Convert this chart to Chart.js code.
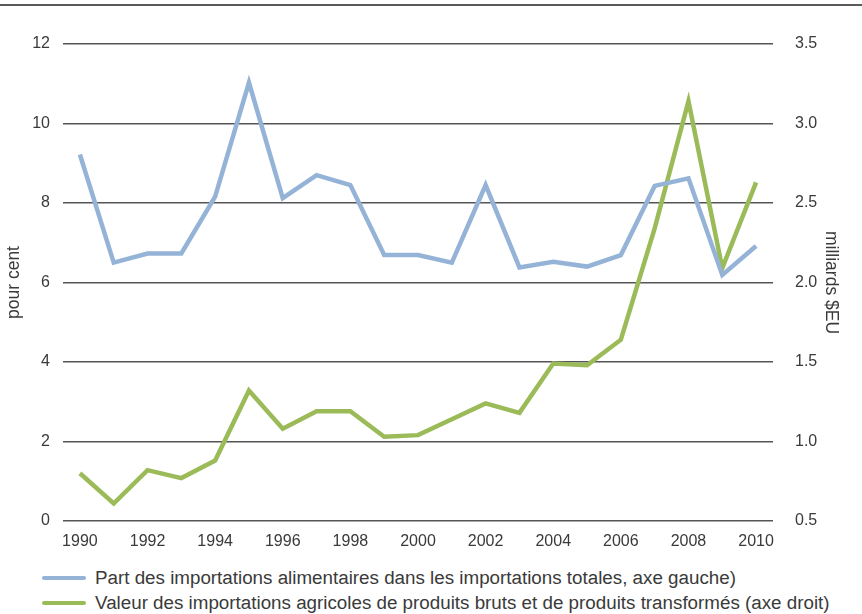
<!DOCTYPE html>
<html lang="fr">
<head>
<meta charset="UTF-8">
<title>Importations alimentaires</title>
<script src="https://cdn.jsdelivr.net/npm/chart.js"></script>
<style>
    body {
        margin: 0;
        padding: 0;
        background: #fff;
        font-family: "Liberation Sans", Arial, sans-serif;
        color: #3a3a3a;
    }
    .wrap {
        position: relative;
        width: 862px;
        height: 614px;
    }
    .topline {
        position: absolute;
        left: 0;
        top: 4px;
        width: 862px;
        height: 0;
        border-top: 2px solid #5a5a5a;
    }
    .chart-box {
        position: absolute;
        left: 0;
        top: 0;
        width: 862px;
        height: 556px;
    }
    .legend {
        position: absolute;
        left: 42px;
        top: 565px;
        font-size: 18.8px;
    }
    .legend div {
        height: 25px;
        line-height: 25px;
        white-space: nowrap;
    }
    .legend span.sw {
        display: inline-block;
        width: 44px;
        height: 4px;
        border-radius: 2px;
        vertical-align: middle;
        margin-right: 9px;
        position: relative;
        top: -1px;
    }
</style>
</head>
<body>
<div class="wrap">
    <div class="topline"></div>
    <div class="chart-box"><canvas id="chart" width="862" height="556"></canvas></div>
    <div class="legend" id="legend"></div>
</div>

<script>
    // Données
    const years = [1990, 1991, 1992, 1993, 1994, 1995, 1996, 1997, 1998, 1999, 2000,
                   2001, 2002, 2003, 2004, 2005, 2006, 2007, 2008, 2009, 2010];

    // part des importations alimentaires (pour cent, axe gauche)
    const partAlim = [9.22, 6.50, 6.73, 6.73, 8.16, 11.03, 8.12, 8.70, 8.45, 6.69, 6.69,
                      6.50, 8.45, 6.38, 6.52, 6.40, 6.69, 8.43, 8.62, 6.19, 6.92];

    // valeur des importations agricoles (milliards $EU, axe droit)
    const valeurAgri = [0.80, 0.61, 0.82, 0.77, 0.88, 1.32, 1.08, 1.19, 1.19, 1.03, 1.04,
                        1.14, 1.24, 1.18, 1.49, 1.48, 1.64, 2.34, 3.14, 2.09, 2.63];

    const leftTicks = [0, 2, 4, 6, 8, 10, 12];
    const rightTicks = [0.5, 1.0, 1.5, 2.0, 2.5, 3.0, 3.5];

    const labelPart = 'Part des importations alimentaires dans les importations totales, axe gauche)';
    const labelValeur = 'Valeur des importations agricoles de produits bruts et de produits transformés (axe droit)';

    const blue = '#95b3d7';
    const green = '#9bbb59';
    const gridColor = '#555555';
    const textColor = '#3a3a3a';

    Chart.defaults.font.family = '"Liberation Sans", Arial, sans-serif';
    Chart.defaults.font.size = 16;
    Chart.defaults.color = textColor;

    const ctx = document.getElementById('chart').getContext('2d');

    new Chart(ctx, {
        type: 'line',
        data: {
            labels: years,
            datasets: [
                {
                    label: labelPart,
                    data: partAlim,
                    borderColor: blue,
                    borderWidth: 4.5,
                    pointRadius: 0,
                    tension: 0,
                    yAxisID: 'y'
                },
                {
                    label: labelValeur,
                    data: valeurAgri,
                    borderColor: green,
                    borderWidth: 4.5,
                    pointRadius: 0,
                    tension: 0,
                    yAxisID: 'y1'
                }
            ]
        },
        options: {
            responsive: false,
            animation: false,
            layout: { padding: { top: 44, bottom: 0, left: 4, right: 21 } },
            plugins: {
                legend: { display: false },
                tooltip: { enabled: false }
            },
            scales: {
                x: {
                    offset: true,
                    grid: { display: false },
                    border: { display: false },
                    ticks: {
                        autoSkip: false,
                        maxRotation: 0,
                        padding: 3,
                        callback: function (value, index) {
                            return index % 2 === 0 ? years[index] : '';
                        }
                    },
                    afterFit: function (scale) { scale.height = 35; }
                },
                y: {
                    position: 'left',
                    min: 0,
                    max: 12,
                    afterBuildTicks: function (scale) {
                        scale.ticks = leftTicks.map(v => ({ value: v }));
                    },
                    grid: {
                        color: gridColor,
                        lineWidth: 1.5,
                        drawTicks: false
                    },
                    border: { display: false },
                    ticks: { padding: 13 },
                    title: {
                        display: true,
                        text: 'pour cent',
                        font: { size: 17.5 },
                        padding: 0
                    },
                    afterFit: function (scale) { scale.width = 59; }
                },
                y1: {
                    position: 'right',
                    min: 0.5,
                    max: 3.5,
                    afterBuildTicks: function (scale) {
                        scale.ticks = rightTicks.map(v => ({ value: v }));
                    },
                    grid: { display: false },
                    border: { display: false },
                    ticks: {
                        padding: 14,
                        callback: function (value) { return value.toFixed(1); }
                    },
                    title: {
                        display: true,
                        text: 'milliards $EU',
                        font: { size: 17.5 },
                        padding: 0
                    },
                    afterFit: function (scale) { scale.width = 68; }
                }
            }
        }
    });

    // légende sous le graphique
    const legend = document.getElementById('legend');
    [[blue, labelPart], [green, labelValeur]].forEach(function (item) {
        const row = document.createElement('div');
        const sw = document.createElement('span');
        sw.className = 'sw';
        sw.style.background = item[0];
        row.appendChild(sw);
        row.appendChild(document.createTextNode(item[1]));
        legend.appendChild(row);
    });
</script>
</body>
</html>
